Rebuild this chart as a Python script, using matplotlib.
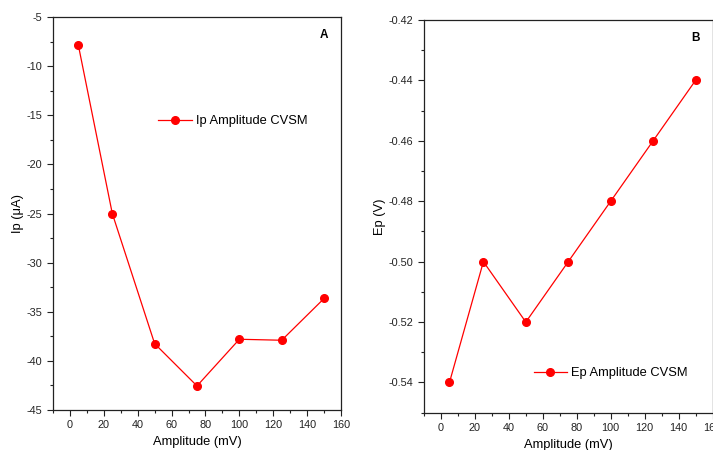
import matplotlib
matplotlib.use("Agg")
import matplotlib.pyplot as plt
from matplotlib.ticker import MultipleLocator, FuncFormatter

plt.rcParams['font.family'] = ['Liberation Sans', 'DejaVu Sans']
plt.rcParams['axes.unicode_minus'] = False

amplitude = [5, 25, 50, 75, 100, 125, 150]
ip_values = [-7.9, -25.0, -38.25, -42.55, -37.8, -37.9, -33.65]
ep_values = [-0.54, -0.50, -0.52, -0.50, -0.48, -0.46, -0.44]

W, H = 713, 450
fig = plt.figure(figsize=(W / 100, H / 100), dpi=100)

def px_axes(l, t, r, b):
    return fig.add_axes([l / W, 1 - b / H, (r - l) / W, (b - t) / H])

red = '#ff0000'
tick_fs = 7.8
lab_fs = 9.3

def style(ax):
    for s in ax.spines.values():
        s.set_linewidth(0.9)
        s.set_color('#222222')
    ax.tick_params(which='major', direction='out', length=4, width=0.8, labelsize=tick_fs,
                   colors='#222222', labelcolor='#222222')
    ax.tick_params(which='minor', direction='out', length=2.5, width=0.8, colors='#222222')

# Panel A
axA = px_axes(53, 17, 341, 410)
axA.plot(amplitude, ip_values, color=red, lw=0.9, marker='o', ms=5.5, mfc=red, mec=red,
         label='Ip Amplitude CVSM')
axA.set_xlim(-10, 160)
axA.set_ylim(-45, -5)
axA.xaxis.set_major_locator(MultipleLocator(20))
axA.xaxis.set_minor_locator(MultipleLocator(10))
axA.yaxis.set_major_locator(MultipleLocator(5))
axA.yaxis.set_minor_locator(MultipleLocator(2.5))
style(axA)
axA.set_xlabel('Amplitude (mV)', fontsize=lab_fs, labelpad=4)
axA.set_ylabel('Ip (\u03bcA)', fontsize=lab_fs, labelpad=2)
axA.text(0.94, 0.955, 'A', transform=axA.transAxes, fontsize=8.5, fontweight='bold',
         ha='center', va='center')
axA.legend(loc='center left', bbox_to_anchor=(0.365, 0.735), frameon=False, fontsize=lab_fs,
           numpoints=1, handlelength=2.6, handletextpad=0.3, borderpad=0, borderaxespad=0)

# Panel B
axB = px_axes(424, 20, 712.5, 412.7)
axB.plot(amplitude, ep_values, color=red, lw=0.9, marker='o', ms=5.5, mfc=red, mec=red,
         label='Ep Amplitude CVSM')
axB.set_xlim(-10, 160)
axB.set_ylim(-0.55, -0.42)
axB.xaxis.set_major_locator(MultipleLocator(20))
axB.xaxis.set_minor_locator(MultipleLocator(10))
axB.yaxis.set_major_locator(MultipleLocator(0.02))
axB.yaxis.set_minor_locator(MultipleLocator(0.01))
axB.yaxis.set_major_formatter(FuncFormatter(lambda v, p: f'{v:.2f}'))
style(axB)
axB.set_xlabel('Amplitude (mV)', fontsize=lab_fs, labelpad=4)
axB.set_ylabel('Ep (V)', fontsize=lab_fs, labelpad=2)
axB.text(0.94, 0.955, 'B', transform=axB.transAxes, fontsize=8.5, fontweight='bold',
         ha='center', va='center')
axB.legend(loc='center left', bbox_to_anchor=(0.38, 0.10), frameon=False, fontsize=lab_fs,
           numpoints=1, handlelength=2.6, handletextpad=0.3, borderpad=0, borderaxespad=0)

fig.savefig('out.png', dpi=100)
